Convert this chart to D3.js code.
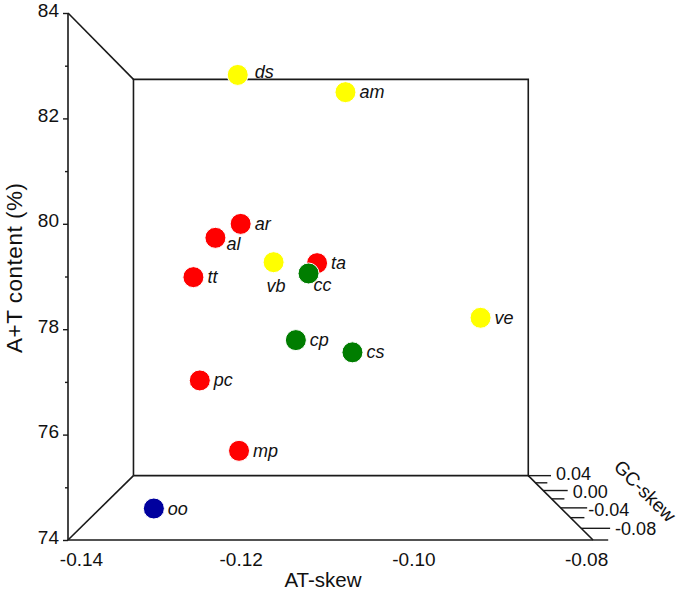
<!DOCTYPE html>
<html><head><meta charset="utf-8">
<script src="https://cdn.jsdelivr.net/npm/d3@7"></script>
<style>
body{margin:0;background:#fff}
svg{display:block}
text{font-family:"Liberation Sans",Arial,Helvetica,sans-serif;fill:#111}
</style>
</head><body>
<svg id="chart" width="685" height="593"></svg>
<script>
// ---- data ----
const species   = ["ds","am","ar","al","tt","vb","ta","cc","cp","cs","pc","mp","ve","oo"];
const groups    = ["Y","Y","R","R","R","Y","R","G","G","G","R","R","Y","B"];
const atSkew    = [-0.1224,-0.1075,-0.1215,-0.1242,-0.1285,-0.1181,-0.1114,-0.1124,-0.1144,-0.1065,-0.1269,-0.1207,-0.0906,-0.1320];
const atContent = [83.56,83.34,80.15,79.81,79.00,79.37,79.30,79.07,77.58,77.24,76.76,75.54,78.15,74.19];
const gcSkew    = [-0.02,0.00,-0.04,-0.06,-0.02,0.02,-0.04,-0.06,-0.02,0.00,-0.04,-0.08,-0.06,-0.06];
const xTicks  = [-0.14,-0.12,-0.10,-0.08];
const yTicks  = [74,76,78,80,82,84];
const yMinor  = [75,77,79,81,83];
const gcTicks = [0.04,0.00,-0.04,-0.08];
const gcMinor = [0.02,-0.02,-0.06,-0.10];

// ---- styles / layout ----
const groupColor = {R:"#ff0000",Y:"#ffff00",G:"#007d00",B:"#00009e"};
const labelOffset = {ds:[17,3],al:[11,12],vb:[-7,30],cc:[5,18]};
const defaultOffset = [14,6];
const gcLabelShift = {"0.04":[5,-2],"0.00":[5,1],"-0.04":[1,2],"-0.08":[5,0]};

const svg = d3.select("#chart");
const X = d3.scaleLinear().domain([-0.14,-0.0792]).range([68,593]);
const Y = d3.scaleLinear().domain([74,84]).range([540,13]);
const Z = d3.scaleLinear().domain([-0.10,0.04]).range([0,1]);
const VX = 332, VY = 280.5, K = 1/0.752 - 1;
function proj(a,c,g){
  const s = 1/(1+K*Z(g));
  return [VX + (X(a)-VX)*s, VY + (Y(c)-VY)*s];
}
const xMin = X.domain()[0], xMax = X.domain()[1];
const gFront = Z.domain()[0], gBack = Z.domain()[1];
const line = d3.line();
const stroke = "#1a1a1a";

// box lines
const boxSegs = [
  [[xMin,74,gBack],[xMax,74,gBack],[xMax,84,gBack],[xMin,84,gBack],[xMin,74,gBack]],
  [[xMin,84,gFront],[xMin,74,gFront],[xMax,74,gFront]],
  [[xMin,84,gFront],[xMin,84,gBack]],
  [[xMin,74,gFront],[xMin,74,gBack]],
  [[xMax,74,gFront],[xMax,74,gBack]]
];
svg.append("g").selectAll("path").data(boxSegs).join("path")
  .attr("d",d=>line(d.map(p=>proj(...p))))
  .attr("fill","none").attr("stroke",stroke).attr("stroke-width",1.6)
  .attr("stroke-linejoin","miter");

// y axis (front-left)
const yAx = svg.append("g").attr("transform",`translate(${X(xMin)},0)`)
  .call(d3.axisLeft(Y).tickValues(yTicks).tickSize(5).tickPadding(4).tickFormat(d=>d));
yAx.select(".domain").remove();
yAx.selectAll(".tick line").attr("stroke",stroke).attr("stroke-width",1.4);
yAx.selectAll("text").attr("font-size",19).attr("fill","#111").attr("y",-3)
  .attr("font-family","Liberation Sans, Arial, sans-serif");
const yAxm = svg.append("g").attr("transform",`translate(${X(xMin)},0)`)
  .call(d3.axisLeft(Y).tickValues(yMinor).tickSize(3).tickFormat(""));
yAxm.select(".domain").remove();
yAxm.selectAll(".tick line").attr("stroke",stroke).attr("stroke-width",1.4);

// x axis labels (front-bottom)
const xAx = svg.append("g").attr("transform",`translate(0,${Y(74)})`)
  .call(d3.axisBottom(X).tickValues(xTicks).tickSize(0).tickPadding(13).tickFormat(d=>d.toFixed(2)));
xAx.select(".domain").remove();
xAx.selectAll("text").attr("font-size",19).attr("fill","#111")
  .attr("font-family","Liberation Sans, Arial, sans-serif")
  .attr("dx",d=>d===xMin?13:0);

// GC-skew axis ticks (perspective)
const tickMajor = 0.0035, tickMinorLen = 0.00176;
const gcG = svg.append("g");
gcG.selectAll("path.maj").data(gcTicks).join("path").attr("class","maj")
  .attr("d",g=>line([proj(xMax,74,g),proj(xMax+tickMajor,74,g)]))
  .attr("stroke",stroke).attr("stroke-width",1.4);
gcG.selectAll("path.min").data(gcMinor).join("path").attr("class","min")
  .attr("d",g=>line([proj(xMax,74,g),proj(xMax+tickMinorLen,74,g)]))
  .attr("stroke",stroke).attr("stroke-width",1.4);
gcG.selectAll("text").data(gcTicks).join("text")
  .attr("x",g=>proj(xMax+tickMajor,74,g)[0]+gcLabelShift[g.toFixed(2)][0])
  .attr("y",g=>proj(xMax+tickMajor,74,g)[1]+gcLabelShift[g.toFixed(2)][1])
  .attr("dy","0.35em").attr("font-size",18)
  .text(g=>g.toFixed(2));

// axis titles
svg.append("text").attr("x",323).attr("y",587).attr("text-anchor","middle")
  .attr("font-size",20.5).text("AT-skew");
svg.append("text").attr("transform","translate(22,268) rotate(-90)")
  .attr("text-anchor","middle").attr("font-size",22.5)
  .attr("textLength",170).attr("lengthAdjust","spacing").text("A+T content (%)");
svg.append("text").attr("transform","translate(645,491) rotate(45)")
  .attr("text-anchor","middle").attr("dy","0.35em").attr("font-size",19).text("GC-skew");

// points (back to front)
const pts = species.map((n,i)=>({name:n,grp:groups[i],p:proj(atSkew[i],atContent[i],gcSkew[i]),g:gcSkew[i]}))
  .sort((a,b)=>b.g-a.g);
const pg = svg.append("g").selectAll("g").data(pts).join("g");
pg.append("circle").attr("cx",d=>d.p[0]).attr("cy",d=>d.p[1]).attr("r",10.5)
  .attr("fill",d=>groupColor[d.grp]).attr("stroke","#fff").attr("stroke-width",1);
pg.append("text")
  .attr("x",d=>d.p[0]+(labelOffset[d.name]||defaultOffset)[0])
  .attr("y",d=>d.p[1]+(labelOffset[d.name]||defaultOffset)[1])
  .attr("font-size",18).attr("font-style","italic").text(d=>d.name);
</script>
</body></html>
